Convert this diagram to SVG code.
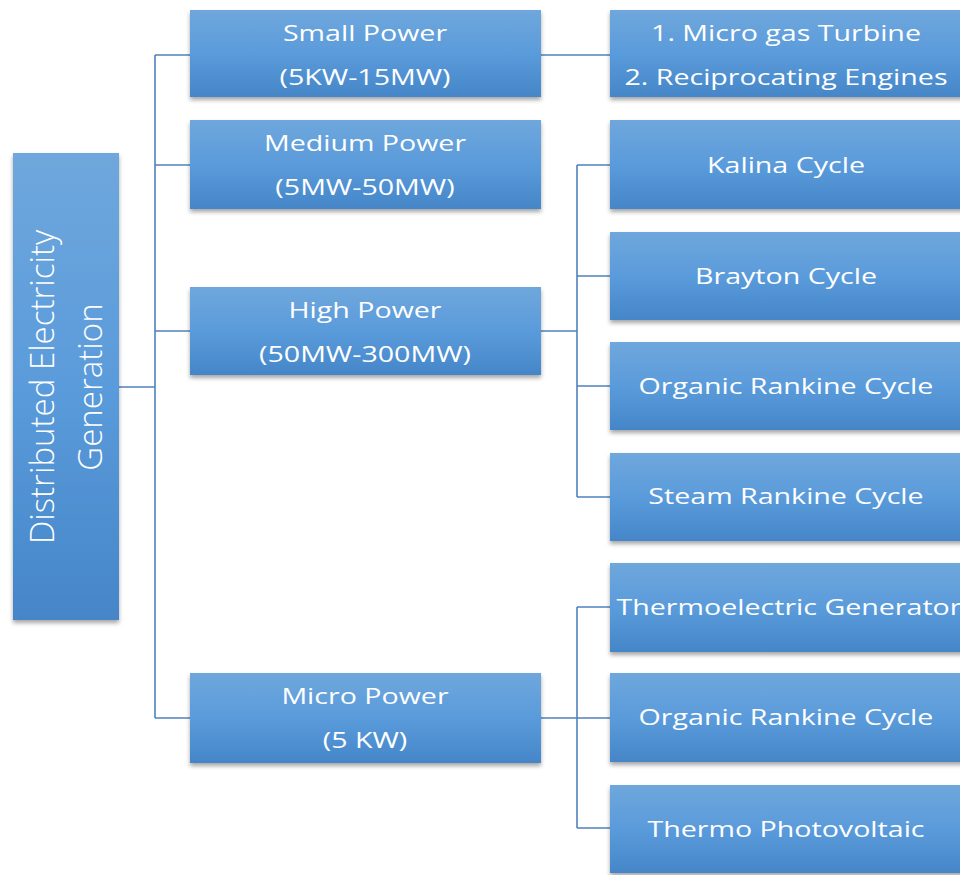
<svg xmlns="http://www.w3.org/2000/svg" width="960" height="875" viewBox="0 0 960 875">
<defs>
<linearGradient id="g" x1="0" y1="0" x2="0" y2="1">
<stop offset="0" stop-color="#6fa7dc"/>
<stop offset="0.5" stop-color="#5a9bdb"/>
<stop offset="1" stop-color="#4586c8"/>
</linearGradient>
<filter id="sh" x="-5%" y="-10%" width="110%" height="130%">
<feDropShadow dx="0" dy="3" stdDeviation="2" flood-color="#000" flood-opacity="0.35"/>
</filter>
</defs>
<style>
.box{fill:url(#g);filter:url(#sh)}
.t{fill:#fff;font-family:"Open Sans","Liberation Sans",sans-serif;font-size:22px;text-anchor:middle}
.r{fill:#fff;font-family:"Open Sans","Liberation Sans",sans-serif;font-size:33px;font-weight:300;text-anchor:middle}
.c{fill:none;stroke:#4f82bd;stroke-width:1.6}
</style>
<rect width="960" height="875" fill="#fff"/>
<g id="connectors">
<path class="c" d="M119 387H155M155 55V718M155 55H190M155 165H190M155 331H190M155 718H190"/>
<path class="c" d="M541 55H610"/>
<path class="c" d="M541 331H577M577 165V497M577 165H610M577 276H610M577 386H610M577 497H610"/>
<path class="c" d="M541 718H577M577 607V828M577 607H610M577 718H610M577 828H610"/>
</g>
<g id="root">
<rect class="box" x="13" y="153" width="106" height="467"/>
<text class="r" transform="rotate(-90 66 387)"><tspan x="66" y="375">Distributed Electricity</tspan><tspan x="66" y="423">Generation</tspan></text>
</g>
<g id="small">
<rect class="box" x="190" y="10" width="351" height="87"/>
<text class="t" transform="translate(365 0) scale(1.3 1)"><tspan x="0" y="41">Small Power</tspan><tspan x="0" y="85">(5KW-15MW)</tspan></text>
</g>
<g id="medium">
<rect class="box" x="190" y="120" width="351" height="89"/>
<text class="t" transform="translate(365 0) scale(1.3 1)"><tspan x="0" y="151">Medium Power</tspan><tspan x="0" y="195">(5MW-50MW)</tspan></text>
</g>
<g id="high">
<rect class="box" x="190" y="287" width="351" height="88"/>
<text class="t" transform="translate(365 0) scale(1.3 1)"><tspan x="0" y="318">High Power</tspan><tspan x="0" y="362">(50MW-300MW)</tspan></text>
</g>
<g id="micro">
<rect class="box" x="190" y="673" width="351" height="90"/>
<text class="t" transform="translate(365 0) scale(1.3 1)"><tspan x="0" y="704">Micro Power</tspan><tspan x="0" y="748">(5 KW)</tspan></text>
</g>
<g id="small-tech">
<rect class="box" x="610" y="10" width="360" height="87"/>
<text class="t" transform="translate(786 0) scale(1.3 1)"><tspan x="0" y="41">1. Micro  gas Turbine</tspan><tspan x="0" y="85">2. Reciprocating Engines</tspan></text>
</g>
<g id="kalina">
<rect class="box" x="610" y="120" width="360" height="89"/>
<text class="t" transform="translate(786 0) scale(1.3 1)" x="0" y="173">Kalina Cycle</text>
</g>
<g id="brayton">
<rect class="box" x="610" y="232" width="360" height="88"/>
<text class="t" transform="translate(786 0) scale(1.3 1)" x="0" y="284">Brayton Cycle</text>
</g>
<g id="orc-high">
<rect class="box" x="610" y="342" width="360" height="88"/>
<text class="t" transform="translate(786 0) scale(1.3 1)" x="0" y="394">Organic Rankine Cycle</text>
</g>
<g id="steam">
<rect class="box" x="610" y="453" width="360" height="88"/>
<text class="t" transform="translate(786 0) scale(1.3 1)" x="0" y="504">Steam Rankine Cycle</text>
</g>
<g id="teg">
<rect class="box" x="610" y="563" width="360" height="89"/>
<text class="t" transform="translate(789 0) scale(1.3 1)" x="0" y="615">Thermoelectric Generator</text>
</g>
<g id="orc-micro">
<rect class="box" x="610" y="673" width="360" height="89"/>
<text class="t" transform="translate(786 0) scale(1.3 1)" x="0" y="725">Organic Rankine Cycle</text>
</g>
<g id="tpv">
<rect class="box" x="610" y="785" width="360" height="88"/>
<text class="t" transform="translate(786 0) scale(1.3 1)" x="0" y="837">Thermo Photovoltaic</text>
</g>
</svg>
